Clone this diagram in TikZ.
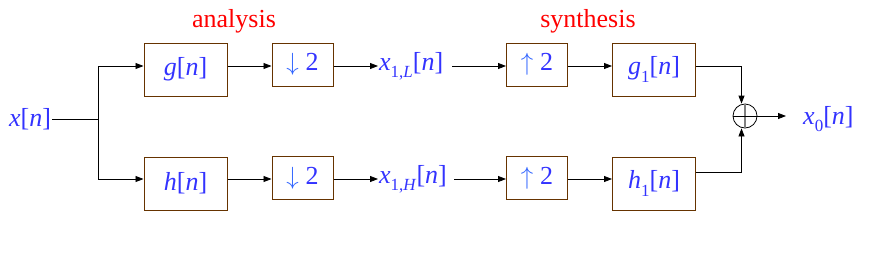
\documentclass[tikz,border=0pt]{standalone}
\usepackage{fontspec}
\newfontfamily\tms{Liberation Serif}
\usetikzlibrary{arrows.meta}
\definecolor{txtblue}{RGB}{51,51,255}
\definecolor{arrblue}{RGB}{51,102,255}
\definecolor{boxbrown}{RGB}{102,51,0}
\newcommand\lowsub[1]{\raisebox{-0.28em}{\fontsize{17}{17}\selectfont #1}}
\newcommand\dnarr{{\color{arrblue}\fontsize{25}{25}\selectfont$\downarrow$}}
\newcommand\uparr{{\color{arrblue}\fontsize{25}{25}\selectfont$\uparrow$}}
\begin{document}
\begin{tikzpicture}[x=1pt,y=-1pt,
  bigfont/.style={font=\tms\fontsize{26}{26}\selectfont},
  blk/.style={draw=boxbrown, line width=1pt, minimum width=83pt, minimum height=53pt, inner sep=0pt, bigfont, text=txtblue},
  sblk/.style={draw=boxbrown, line width=1pt, minimum width=61pt, minimum height=43pt, inner sep=0pt, bigfont, text=txtblue},
  sig/.style={bigfont, text=txtblue, inner sep=1pt},
  lbl/.style={bigfont, text=red, inner sep=0pt},
  arr/.style={-{Triangle[length=8pt,width=6pt]}, line width=0.8pt},
  ln/.style={line width=0.8pt}]
\path[use as bounding box] (0,0) rectangle (885,255);
\coordinate (rT) at (0,66);
\coordinate (rB) at (0,179);
\coordinate (rB2) at (0,172);
\node[lbl] (an) at (234,21) {analysis};
\node[lbl] (syn) at (588,21) {synthesis};
\node[sig, anchor=west] (xin) at (8,119) {\textit{x}[\textit{n}]};
\coordinate (J) at (98,119);
\node[blk] (g) at (185.5,69.5) {\textit{g}[\textit{n}]};
\node[blk] (h) at (185.5,183.5) {\textit{h}[\textit{n}]};
\node[sblk] (d1) at (302.5,64.5) {\dnarr\hspace{7pt}2};
\node[sblk] (d2) at (302.5,178) {\dnarr\hspace{7pt}2};
\node[sig, anchor=west] (x1L) at (378,66) {\textit{x}\lowsub{1,\textit{L}}[\textit{n}]};
\node[sig, anchor=west] (x1H) at (378,179) {\textit{x}\lowsub{1,\textit{H}}[\textit{n}]};
\node[sblk] (u1) at (537,64.5) {\uparr\hspace{7pt}2};
\node[sblk] (u2) at (537,178) {\uparr\hspace{7pt}2};
\node[blk] (g1) at (654,69.5) {\textit{g}\lowsub{1}[\textit{n}]};
\node[blk] (h1) at (654,183.5) {\textit{h}\lowsub{1}[\textit{n}]};
\node[draw, circle, minimum size=24pt, inner sep=0pt, line width=0.8pt] (sum) at (745,116) {};
\coordinate (outend) at (786,116);
\node[sig, anchor=west] (x0) at (802,119) {\textit{x}\lowsub{0}[\textit{n}]};
% connectors
\draw[ln] (xin.east) -- (J);
\draw[arr] (J) |- (g.west |- rT);
\draw[arr] (J) |- (h.west |- rB);
\draw[arr] (g.east |- rT) -- (d1.west |- rT);
\draw[arr] (h.east |- rB) -- (d2.west |- rB);
\draw[arr] (d1.east |- rT) -- (x1L.west |- rT);
\draw[arr] (d2.east |- rB) -- (x1H.west |- rB);
\draw[arr] ([xshift=8pt]x1L.east |- rT) -- (u1.west |- rT);
\draw[arr] ([xshift=6pt]x1H.east |- rB) -- (u2.west |- rB);
\draw[arr] (u1.east |- rT) -- (g1.west |- rT);
\draw[arr] (u2.east |- rB) -- (h1.west |- rB);
\draw[arr] (g1.east |- rT) -| ([xshift=-3.5pt]sum.north);
\draw[arr] (h1.east |- rB2) -| ([xshift=-3.5pt]sum.south);
\draw[gray, line width=1.6pt] (sum.north) -- (sum.south);
\draw[ln] (sum.west) -- (sum.east);
\draw[arr] (sum.east) -- (outend);
\end{tikzpicture}
\end{document}
